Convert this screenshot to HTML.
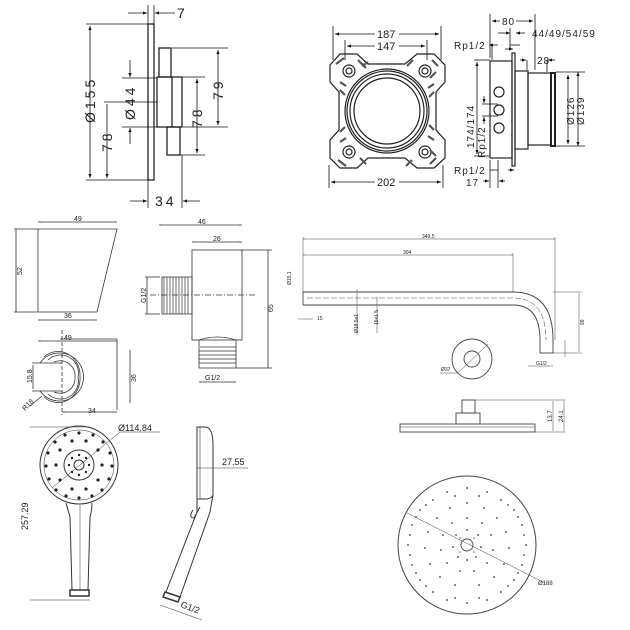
<!DOCTYPE html>
<html><head><meta charset="utf-8"><style>
html,body{margin:0;padding:0;background:#fff;width:630px;height:630px;overflow:hidden}
svg{display:block}
text{font-family:"Liberation Sans",sans-serif;fill:#222}
</style></head><body>
<svg width="630" height="630" viewBox="0 0 630 630" xmlns="http://www.w3.org/2000/svg">
<defs>
<marker id="a" viewBox="0 0 10 10" refX="10" refY="5" markerWidth="5" markerHeight="5" orient="auto-start-reverse"><path d="M0,1 L10,5 L0,9z" fill="#111"/></marker>
<marker id="s" viewBox="0 0 10 10" refX="10" refY="5" markerWidth="3" markerHeight="3" orient="auto-start-reverse"><path d="M0,2 L10,5 L0,8z" fill="#555"/></marker>
</defs>
<g stroke="#111" fill="none" stroke-width="1.2">
<rect x="148" y="24" width="6" height="156"/>
<rect x="159" y="48" width="12" height="29"/>
<rect x="157" y="77" width="25" height="50"/>
<line x1="172" y1="77" x2="172" y2="127"/>
<rect x="167" y="127" width="13" height="28"/>
<g stroke-width="0.8">
<line x1="86" y1="24" x2="148" y2="24"/><line x1="86" y1="180" x2="148" y2="180"/>
<line x1="90" y1="26" x2="90" y2="178" marker-start="url(#a)" marker-end="url(#a)"/>
<line x1="104" y1="102" x2="157" y2="102"/>
<line x1="107" y1="104" x2="107" y2="178" marker-end="url(#a)"/>
<line x1="122" y1="78" x2="157" y2="78"/><line x1="122" y1="127" x2="157" y2="127"/>
<line x1="130" y1="60" x2="130" y2="77" marker-end="url(#a)"/><line x1="130" y1="144" x2="130" y2="128" marker-end="url(#a)"/>
<line x1="172" y1="48" x2="228" y2="48"/><line x1="172" y1="127" x2="228" y2="127"/>
<line x1="218" y1="50" x2="218" y2="125" marker-start="url(#a)" marker-end="url(#a)"/>
<line x1="182" y1="77" x2="205" y2="77"/><line x1="180" y1="155" x2="205" y2="155"/>
<line x1="197" y1="79" x2="197" y2="153" marker-start="url(#a)" marker-end="url(#a)"/>
<line x1="148" y1="5" x2="148" y2="24"/><line x1="154" y1="5" x2="154" y2="24"/>
<line x1="128" y1="13" x2="147" y2="13" marker-end="url(#a)"/><line x1="175" y1="13" x2="155" y2="13" marker-end="url(#a)"/>
<line x1="148" y1="180" x2="148" y2="208"/><line x1="182" y1="155" x2="182" y2="208"/>
<line x1="130" y1="201" x2="147" y2="201" marker-end="url(#a)"/><line x1="200" y1="201" x2="183" y2="201" marker-end="url(#a)"/>
</g>
</g>
<g font-size="14">
<text x="177" y="18">7</text>
<text x="155" y="206" letter-spacing="3">34</text>
<text transform="translate(95,123) rotate(-90)" letter-spacing="3">Ø155</text>
<text transform="translate(112,152) rotate(-90)" letter-spacing="3">78</text>
<text transform="translate(135,120) rotate(-90)" letter-spacing="3">Ø44</text>
<text transform="translate(223,100) rotate(-90)" letter-spacing="3">79</text>
<text transform="translate(202,128) rotate(-90)" letter-spacing="3">78</text>
</g>

<g stroke="#222" fill="none" stroke-width="1.2">
<path d="M340,54 L357,54 L368,64 L405,64 L417,54 L434,54 L445,65 L445,82 L436,92 L436,130 L445,140 L445,158 L434,168 L417,168 L405,158 L368,158 L357,168 L340,168 L330,158 L330,140 L339,130 L339,92 L330,82 L330,65 Z"/>
<circle cx="387" cy="111" r="42"/><circle cx="387" cy="111" r="40"/><circle cx="387" cy="111" r="37"/><circle cx="387" cy="111" r="33"/>
<circle cx="349" cy="71" r="6"/><circle cx="425" cy="71" r="6"/><circle cx="349" cy="152" r="6"/><circle cx="425" cy="152" r="6"/>
<circle cx="349" cy="71" r="3"/><circle cx="425" cy="71" r="3"/><circle cx="349" cy="152" r="3"/><circle cx="425" cy="152" r="3"/>
<g stroke-width="2.2" stroke="#555"><path d="M336,64 l8,-6 M358,60 l8,8 M362,66 l6,-4 M413,60 l-6,6 M430,78 l6,-6 M438,66 l-6,-6 M338,160 l8,6 M360,158 l6,6 M412,160 l-6,6 M430,150 l6,6 M436,158 l-6,6 M340,82 l6,4 M434,84 l-6,4 M340,142 l6,-4 M434,140 l-6,-4 M340,90 l5,5 M434,92 l-5,5 M340,132 l5,-5 M434,130 l-5,-5"/></g>
<g stroke-width="0.8" stroke="#111">
<line x1="333" y1="26" x2="333" y2="60"/><line x1="441" y1="26" x2="441" y2="60"/>
<line x1="335" y1="34" x2="439" y2="34" marker-start="url(#a)" marker-end="url(#a)"/>
<line x1="345" y1="40" x2="345" y2="60"/><line x1="427" y1="40" x2="427" y2="60"/>
<line x1="347" y1="46" x2="425" y2="46" marker-start="url(#a)" marker-end="url(#a)"/>
<line x1="329" y1="165" x2="329" y2="188"/><line x1="443" y1="165" x2="443" y2="188"/>
<line x1="331" y1="182" x2="441" y2="182" marker-start="url(#a)" marker-end="url(#a)"/>
</g></g>
<g font-size="11" fill="#222">
<rect x="375" y="28" width="24" height="10" fill="#fff"/><text x="377" y="38">187</text>
<rect x="375" y="40" width="24" height="10" fill="#fff"/><text x="377" y="50">147</text>
<rect x="375" y="176" width="24" height="10" fill="#fff"/><text x="377" y="186">202</text>
</g>

<g stroke="#222" fill="none" stroke-width="1.2">
<rect x="490" y="61" width="22" height="97"/>
<rect x="512" y="53" width="3" height="113"/>
<rect x="515" y="71" width="13" height="78"/>
<rect x="528" y="73" width="23" height="72"/>
<rect x="551" y="73" width="4" height="73" stroke-width="2"/>
<circle cx="499" cy="92" r="5"/><circle cx="499" cy="110" r="5"/><circle cx="499" cy="128" r="5"/>
<g stroke-width="0.8" stroke="#111">
<line x1="490" y1="14" x2="490" y2="58"/><line x1="535" y1="14" x2="535" y2="70"/>
<line x1="492" y1="21" x2="533" y2="21" marker-start="url(#a)" marker-end="url(#a)"/>
<line x1="498" y1="33" x2="510" y2="33" marker-end="url(#a)"/><line x1="525" y1="33" x2="516" y2="33" marker-end="url(#a)"/>
<line x1="510" y1="28" x2="510" y2="50"/>
<line x1="498" y1="45" x2="489" y2="45" marker-end="url(#a)"/><line x1="510" y1="45" x2="520" y2="45"/>
<line x1="492" y1="45" x2="492" y2="60"/>
<line x1="505" y1="49" x2="513" y2="49" marker-end="url(#a)"/>
<line x1="527" y1="60" x2="527" y2="70"/><line x1="547" y1="60" x2="547" y2="72"/>
<line x1="520" y1="60" x2="526" y2="60" marker-end="url(#a)"/><line x1="555" y1="60" x2="548" y2="60" marker-end="url(#a)"/>
<line x1="556" y1="72" x2="585" y2="72"/><line x1="556" y1="146" x2="585" y2="146"/>
<line x1="568" y1="75" x2="568" y2="144" marker-start="url(#a)" marker-end="url(#a)"/>
<line x1="578" y1="72" x2="578" y2="146" marker-start="url(#a)" marker-end="url(#a)"/>
<line x1="474" y1="60" x2="490" y2="60"/><line x1="474" y1="156" x2="490" y2="156"/>
<line x1="477" y1="62" x2="477" y2="154" marker-start="url(#a)" marker-end="url(#a)"/>
<line x1="482" y1="104" x2="498" y2="104"/><line x1="482" y1="116" x2="498" y2="116"/>
<line x1="484" y1="96" x2="484" y2="103" marker-end="url(#a)"/><line x1="484" y1="124" x2="484" y2="117" marker-end="url(#a)"/>
<line x1="490" y1="170" x2="498" y2="170"/>
<line x1="490" y1="160" x2="490" y2="188"/><line x1="498" y1="160" x2="498" y2="188"/>
<line x1="483" y1="181" x2="489" y2="181" marker-end="url(#a)"/><line x1="505" y1="181" x2="499" y2="181" marker-end="url(#a)"/>
<line x1="508" y1="170" x2="514" y2="170" marker-end="url(#a)"/>
</g></g>
<g font-size="10" letter-spacing="1">
<rect x="500" y="16" width="16" height="10" fill="#fff"/><text x="502" y="25">80</text>
<text x="532" y="37">44/49/54/59</text>
<text x="454" y="49">Rp1/2</text>
<text x="537" y="64">28</text>
<text x="454" y="174">Rp1/2</text>
<text x="466" y="186">17</text>
<text transform="translate(474,148) rotate(-90)">174/174</text>
<text transform="translate(485,158) rotate(-90)">Rp1/2</text>
<text transform="translate(574,125) rotate(-90)">Ø126</text>
<text transform="translate(584,125) rotate(-90)">Ø139</text>
</g>

<g stroke="#333" fill="none" stroke-width="0.8">
<path d="M38,229 L117,229 L97,312 L38,312 Z"/>
<line x1="38" y1="222" x2="117" y2="222" marker-start="url(#s)" marker-end="url(#s)"/>
<line x1="16" y1="229" x2="16" y2="312" marker-start="url(#s)" marker-end="url(#s)"/>
<line x1="14" y1="229" x2="38" y2="229"/><line x1="14" y1="312" x2="38" y2="312"/>
<line x1="38" y1="320" x2="97" y2="320" marker-start="url(#s)" marker-end="url(#s)"/>
<path d="M40,363 A24,24 0 1 1 40,391"/>
<path d="M44,357 A22,24 0 0 1 80,377 A22,24 0 0 1 44,397"/>
<path d="M48,360 A18,18 0 0 1 78,377 A18,18 0 0 1 48,394"/>
<path d="M54,362 A15,15 0 0 1 75,377 A15,15 0 0 1 54,392"/>
<line x1="32" y1="363" x2="62" y2="363"/><line x1="32" y1="391" x2="62" y2="391"/>
<line x1="60" y1="339" x2="117" y2="339"/><line x1="117" y1="339" x2="117" y2="410"/>
<line x1="38" y1="341" x2="117" y2="341" marker-start="url(#s)" marker-end="url(#s)"/>
<line x1="130" y1="350" x2="130" y2="403" marker-start="url(#s)" marker-end="url(#s)"/>
<line x1="62" y1="412" x2="117" y2="412" marker-start="url(#s)" marker-end="url(#s)"/>
<line x1="62" y1="330" x2="62" y2="415" stroke-dasharray="4,2"/>
<line x1="33" y1="365" x2="33" y2="389"/>
<line x1="30" y1="406" x2="42" y2="396"/>
<rect x="192" y="250" width="50" height="90"/>
<path d="M162,277 h30 v37 h-30 z"/>
<g stroke-width="0.7"><path d="M164,277 v37 M167,277 v37 M170,277 v37 M173,277 v37 M176,277 v37 M179,277 v37 M182,277 v37 M185,277 v37 M188,277 v37"/>
<path d="M200,347 h36 M199,351 h37 M199,355 h37 M199,359 h37 M199,363 h37"/></g>
<path d="M199,340 Q217,334 236,340 v28 h-37 z"/>
<line x1="159" y1="225" x2="242" y2="225" marker-start="url(#s)" marker-end="url(#s)"/>
<line x1="192" y1="242" x2="242" y2="242" marker-start="url(#s)" marker-end="url(#s)"/>
<line x1="242" y1="250" x2="272" y2="250"/><line x1="236" y1="368" x2="272" y2="368"/>
<line x1="268" y1="250" x2="268" y2="368" marker-start="url(#s)" marker-end="url(#s)"/>
<line x1="145" y1="277" x2="160" y2="277"/><line x1="145" y1="314" x2="160" y2="314"/>
<line x1="147" y1="277" x2="147" y2="314" marker-start="url(#s)" marker-end="url(#s)"/>
<line x1="199" y1="382" x2="236" y2="382" marker-start="url(#s)" marker-end="url(#s)"/>
<line x1="150" y1="295" x2="255" y2="295" stroke-dasharray="6,2,1,2"/>
</g>
<g font-size="7">
<text x="74" y="221">49</text><text x="64" y="318">36</text>
<text transform="translate(22,275) rotate(-90)">52</text>
<text x="64" y="340">49</text><text transform="translate(136,382) rotate(-90)">36</text>
<text x="88" y="413">34</text><text transform="translate(32,383) rotate(-90)">15.8</text>
<text transform="translate(25,411) rotate(-45)">R18</text>
<text x="198" y="224">46</text><text x="213" y="241">26</text>
<text transform="translate(273,312) rotate(-90)">65</text>
<text transform="translate(146,303) rotate(-90)">G1/2</text>
<text x="205" y="380">G1/2</text>
</g>

<g stroke="#444" fill="none" stroke-width="0.9">
<path d="M303,292 L513,292 Q553,292 553,340 L553,353"/>
<path d="M303,305 L513,305 Q540,305 540,340 L540,353"/>
<line x1="303" y1="292" x2="303" y2="305"/><line x1="540" y1="353" x2="553" y2="353"/>
<path d="M307,298 L513,298 Q546,298 546,340" stroke-dasharray="6,2" stroke-width="0.5"/>
<line x1="303" y1="239" x2="555" y2="239" stroke-width="0.5" marker-start="url(#s)" marker-end="url(#s)"/>
<line x1="303" y1="255" x2="513" y2="255" stroke-width="0.5" marker-start="url(#s)" marker-end="url(#s)"/>
<line x1="303" y1="237" x2="303" y2="292" stroke-width="0.5"/><line x1="555" y1="237" x2="555" y2="340" stroke-width="0.5"/><line x1="513" y1="253" x2="513" y2="292" stroke-width="0.5"/>
<line x1="553" y1="292" x2="582" y2="292" stroke-width="0.5"/><line x1="579" y1="293" x2="579" y2="352" stroke-width="0.5"/>
<line x1="553" y1="353" x2="582" y2="353" stroke-width="0.5"/>
<line x1="565" y1="340" x2="565" y2="357" stroke-width="0.5"/>
<line x1="528" y1="366" x2="553" y2="366" stroke-width="0.5"/>
<line x1="298" y1="319" x2="313" y2="319" stroke-width="0.5"/>
<line x1="357" y1="289" x2="357" y2="335" stroke-width="0.5"/><line x1="377" y1="297" x2="377" y2="333" stroke-width="0.5"/>
<circle cx="472" cy="359" r="20"/><circle cx="472" cy="359" r="8"/>
<line x1="458" y1="373" x2="488" y2="344" stroke-width="0.5"/><line x1="440" y1="373" x2="458" y2="373" stroke-width="0.5"/>
</g>
<g font-size="5" fill="#444">
<text x="422" y="238">349.5</text><text x="403" y="254">304</text>
<text x="317" y="320">15</text><text x="441" y="371">Ø37</text><text x="536" y="365">G1/2</text>
<text transform="translate(291,285) rotate(-90)">Ø15.1</text>
<text transform="translate(358,333) rotate(-90)">Ø18.5x1</text>
<text transform="translate(378,325) rotate(-90)">16x1.5</text>
<text transform="translate(584,325) rotate(-90)">99</text>
</g>

<g stroke="#444" fill="none" stroke-width="0.9">
<rect x="400" y="424" width="135" height="8"/>
<line x1="400" y1="427" x2="535" y2="427" stroke-width="0.6"/>
<rect x="456" y="413" width="24" height="11"/>
<rect x="462" y="400" width="13" height="13"/>
<line x1="475" y1="400" x2="566" y2="400" stroke-width="0.5"/>
<line x1="535" y1="432" x2="566" y2="432" stroke-width="0.5"/>
<line x1="553" y1="401" x2="553" y2="431" stroke-width="0.5"/><line x1="564" y1="401" x2="564" y2="431" stroke-width="0.5"/>
<circle cx="467" cy="545" r="69" stroke-width="1"/>
<circle cx="467" cy="545" r="6"/>
<line x1="407" y1="513" x2="545" y2="583" stroke-width="0.5"/>
</g>
<g font-size="6" fill="#444">
<text transform="translate(552,422) rotate(-90)">13.7</text>
<text transform="translate(563,422) rotate(-90)">24.1</text>
<text x="538" y="585">Ø188</text>
</g>

<g stroke="#333" fill="none" stroke-width="1">
<circle cx="79" cy="465" r="39"/><circle cx="79" cy="465" r="35" stroke-width="0.5"/>
<circle cx="79" cy="465" r="15"/><circle cx="79" cy="465" r="5"/>
<path d="M66,503 Q68,510 70,517 L72,590 L88,590 L90,517 Q92,510 92,503"/>
<line x1="80" y1="505" x2="80" y2="590" stroke-width="0.5"/>
<path d="M70,590 h19 v6 h-19 z" stroke-width="1.5"/>
<line x1="30" y1="427" x2="90" y2="427" stroke-width="0.5"/>
<line x1="30" y1="600" x2="90" y2="600" stroke-width="0.5"/>
<line x1="52" y1="488" x2="120" y2="432" stroke-width="0.5"/><line x1="120" y1="432" x2="160" y2="432" stroke-width="0.5"/>
<path d="M197,427 h8 Q213,427 213,445 L213,495 Q212,498 207,499 L197,499 Z"/>
<line x1="200" y1="427" x2="200" y2="499" stroke-width="0.6"/>
<line x1="197" y1="468" x2="248" y2="468" stroke-width="0.5"/>
<path d="M193,510 Q188,518 194,518 L200,507"/>
<path d="M197,499 L197,512 L166,592 M213,495 L210,512 L180,597"/>
<path d="M165,592 l15,5 l-2,5 l-15,-5 z" stroke-width="1.5"/>
<line x1="160" y1="605" x2="202" y2="620" stroke-width="0.5"/>
</g>
<g font-size="9" fill="#444">
<text x="118" y="431">Ø114.84</text>
<text x="222" y="465">27.55</text>
<text transform="translate(28,530) rotate(-90)">257.29</text>
<text transform="translate(180,607) rotate(20)">G1/2</text>
</g>
<g fill="#222">
<circle cx="79" cy="433" r="1.6"/><circle cx="93" cy="435" r="1.6"/><circle cx="65" cy="435" r="1.6"/>
<circle cx="55" cy="442" r="1.6"/><circle cx="103" cy="442" r="1.6"/><circle cx="48" cy="453" r="1.6"/><circle cx="110" cy="453" r="1.6"/>
<circle cx="46" cy="466" r="1.6"/><circle cx="112" cy="466" r="1.6"/><circle cx="49" cy="479" r="1.6"/><circle cx="109" cy="479" r="1.6"/>
<circle cx="56" cy="490" r="1.6"/><circle cx="102" cy="490" r="1.6"/><circle cx="66" cy="496" r="1.6"/><circle cx="92" cy="496" r="1.6"/><circle cx="79" cy="498" r="1.6"/>
<circle cx="72" cy="441" r="1.6"/><circle cx="86" cy="441" r="1.6"/><circle cx="60" cy="450" r="1.6"/><circle cx="98" cy="450" r="1.6"/>
<circle cx="56" cy="465" r="1.6"/><circle cx="102" cy="465" r="1.6"/><circle cx="60" cy="480" r="1.6"/><circle cx="98" cy="480" r="1.6"/>
<circle cx="72" cy="489" r="1.6"/><circle cx="86" cy="489" r="1.6"/>
<circle cx="79" cy="455" r="1.2"/><circle cx="79" cy="475" r="1.2"/><circle cx="69" cy="465" r="1.2"/><circle cx="89" cy="465" r="1.2"/>
<circle cx="72" cy="458" r="1.2"/><circle cx="86" cy="458" r="1.2"/><circle cx="72" cy="472" r="1.2"/><circle cx="86" cy="472" r="1.2"/>
</g>
<g fill="#666">
<circle cx="467" cy="488" r="1"/><circle cx="447" cy="492" r="1"/><circle cx="487" cy="492" r="1"/><circle cx="433" cy="500" r="1"/><circle cx="501" cy="500" r="1"/>
<circle cx="420" cy="510" r="1"/><circle cx="514" cy="510" r="1"/><circle cx="412" cy="525" r="1"/><circle cx="522" cy="525" r="1"/>
<circle cx="408" cy="545" r="1"/><circle cx="526" cy="545" r="1"/><circle cx="412" cy="565" r="1"/><circle cx="522" cy="565" r="1"/>
<circle cx="420" cy="580" r="1"/><circle cx="514" cy="580" r="1"/><circle cx="433" cy="592" r="1"/><circle cx="501" cy="592" r="1"/>
<circle cx="447" cy="600" r="1"/><circle cx="487" cy="600" r="1"/><circle cx="467" cy="603" r="1"/>
<circle cx="467" cy="503" r="1"/><circle cx="450" cy="508" r="1"/><circle cx="484" cy="508" r="1"/><circle cx="437" cy="518" r="1"/><circle cx="497" cy="518" r="1"/>
<circle cx="428" cy="532" r="1"/><circle cx="506" cy="532" r="1"/><circle cx="425" cy="548" r="1"/><circle cx="509" cy="548" r="1"/>
<circle cx="430" cy="564" r="1"/><circle cx="504" cy="564" r="1"/><circle cx="440" cy="577" r="1"/><circle cx="494" cy="577" r="1"/>
<circle cx="455" cy="585" r="1"/><circle cx="479" cy="585" r="1"/>
<circle cx="467" cy="518" r="1"/><circle cx="452" cy="523" r="1"/><circle cx="482" cy="523" r="1"/><circle cx="443" cy="535" r="1"/><circle cx="491" cy="535" r="1"/>
<circle cx="441" cy="550" r="1"/><circle cx="493" cy="550" r="1"/><circle cx="447" cy="563" r="1"/><circle cx="487" cy="563" r="1"/><circle cx="460" cy="571" r="1"/><circle cx="474" cy="571" r="1"/>
<circle cx="467" cy="530" r="1"/><circle cx="456" cy="535" r="1"/><circle cx="478" cy="535" r="1"/><circle cx="453" cy="547" r="1"/><circle cx="481" cy="547" r="1"/>
<circle cx="458" cy="557" r="1"/><circle cx="476" cy="557" r="1"/><circle cx="467" cy="560" r="1"/>
<circle cx="460" cy="538" r="0.8"/><circle cx="474" cy="538" r="0.8"/><circle cx="460" cy="552" r="0.8"/><circle cx="474" cy="552" r="0.8"/>
<circle cx="455" cy="496" r="1"/><circle cx="479" cy="496" r="1"/><circle cx="426" cy="505" r="1"/><circle cx="508" cy="505" r="1"/>
<circle cx="416" cy="517" r="1"/><circle cx="518" cy="517" r="1"/><circle cx="410" cy="535" r="1"/><circle cx="524" cy="535" r="1"/>
<circle cx="410" cy="555" r="1"/><circle cx="524" cy="555" r="1"/><circle cx="416" cy="573" r="1"/><circle cx="518" cy="573" r="1"/>
<circle cx="426" cy="586" r="1"/><circle cx="508" cy="586" r="1"/><circle cx="455" cy="598" r="1"/><circle cx="479" cy="598" r="1"/>
</g>
</svg>
</body></html>
